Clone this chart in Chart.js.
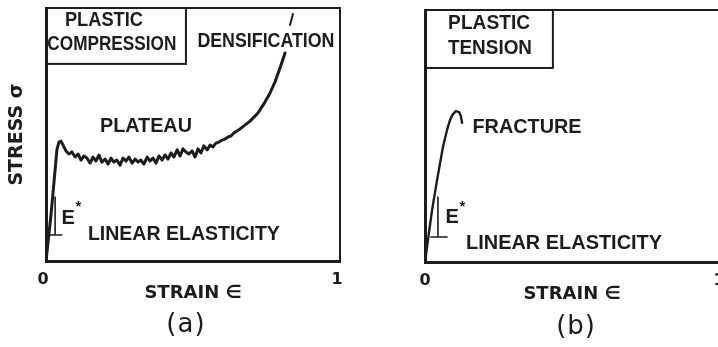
<!DOCTYPE html>
<html><head><meta charset="utf-8">
<script src="https://cdn.jsdelivr.net/npm/chart.js@4.4.1/dist/chart.umd.min.js"></script>
<style>
html,body{margin:0;padding:0;background:#fff;width:718px;height:347px;overflow:hidden;position:relative}
#ca{position:absolute;left:0;top:0}
#cb{position:absolute;left:360px;top:0}
</style></head><body>
<canvas id="ca" width="360" height="347"></canvas>
<canvas id="cb" width="380" height="347"></canvas>
<script>
// ---------- data (strain, normalised stress) ----------
const strainTicks = [0, 1];

const compStrain = [0, 0.017, 0.031, 0.037, 0.044, 0.051,
  0.058, 0.068, 0.078, 0.088, 0.099, 0.109, 0.119, 0.129, 0.139, 0.150,
  0.160, 0.170, 0.180, 0.190, 0.201, 0.211, 0.221, 0.231, 0.241, 0.252,
  0.262, 0.272, 0.282, 0.293, 0.303, 0.313, 0.323, 0.333, 0.344, 0.354,
  0.364, 0.374, 0.384, 0.395, 0.405, 0.415, 0.425, 0.435, 0.446, 0.456,
  0.466, 0.476, 0.486, 0.497, 0.507, 0.517, 0.527, 0.537, 0.548, 0.558,
  0.568, 0.578, 0.588, 0.599, 0.609, 0.619, 0.629, 0.639,
  0.660, 0.694, 0.721, 0.741, 0.762, 0.779, 0.796, 0.813];
const compStress = [0, 0.182, 0.360, 0.439, 0.470, 0.474,
  0.458, 0.435, 0.423, 0.431, 0.411, 0.423, 0.399, 0.415, 0.407, 0.387,
  0.411, 0.395, 0.419, 0.391, 0.403, 0.383, 0.407, 0.391, 0.399, 0.379,
  0.407, 0.395, 0.411, 0.387, 0.403, 0.391, 0.399, 0.383, 0.411, 0.395,
  0.407, 0.387, 0.415, 0.399, 0.419, 0.403, 0.427, 0.411, 0.439, 0.415,
  0.443, 0.431, 0.423, 0.435, 0.411, 0.443, 0.427, 0.455, 0.439, 0.458,
  0.451, 0.466, 0.470, 0.478, 0.482, 0.490, 0.494, 0.506,
  0.522, 0.553, 0.585, 0.621, 0.664, 0.708, 0.763, 0.822];
// continuation stroke above the DENSIFICATION label
const densTickStrain = [0.830, 0.840];
const densTickStress = [0.933, 0.976];
// E* slope bracket (a)
const bracketAStrain = [0.031, 0.031, 0.054, 0.014];
const bracketAStress = [0.253, 0.103, 0.103, 0.103];

const tensStrain = [0, 0.010, 0.024, 0.041, 0.061, 0.075, 0.085, 0.095, 0.105, 0.116, 0.122, 0.126];
const tensStress = [0, 0.087, 0.206, 0.325, 0.456, 0.524, 0.563, 0.587, 0.599, 0.595, 0.579, 0.552];
// E* slope bracket (b)
const bracketBStrain = [0.044, 0.044, 0.075, 0.020];
const bracketBStress = [0.258, 0.099, 0.099, 0.099];

// ---------- helpers / styles ----------
const INK = '#1c1c1c';
const pts = (xs, ys) => xs.map((v, i) => ({x: v, y: ys[i]}));
const lineDS = (xs, ys, w) => ({
  data: pts(xs, ys), showLine: true, borderColor: INK, borderWidth: w,
  pointRadius: 0, tension: 0, fill: false, borderJoinStyle: 'round', borderCapStyle: 'round'
});
const LBL = 'bold 20px "Liberation Sans", Arial, sans-serif';

const deco = {
  id: 'deco',
  afterDatasetsDraw(chart, args, o) {
    const {ctx, chartArea: a, scales: {x, y}} = chart;
    ctx.save();
    ctx.strokeStyle = INK; ctx.fillStyle = INK;
    ctx.lineWidth = 2;
    ctx.beginPath();
    ctx.moveTo(a.left, a.top); ctx.lineTo(a.right, a.top); ctx.lineTo(a.right, a.bottom);
    ctx.stroke();
    for (const b of o.boxes) {
      const x0 = x.getPixelForValue(b.x0), x1 = x.getPixelForValue(b.x1);
      const y0 = y.getPixelForValue(b.y0), y1 = y.getPixelForValue(b.y1);
      ctx.strokeRect(x0, y1, x1 - x0, y0 - y1);
    }
    ctx.textAlign = 'center'; ctx.textBaseline = 'middle';
    for (const t of o.texts) {
      ctx.font = t.font || LBL;
      const px = x.getPixelForValue(t.x), py = y.getPixelForValue(t.y);
      if (t.w) ctx.fillText(t.text, px, py, t.w); else ctx.fillText(t.text, px, py);
    }
    const c = o.caption;
    ctx.font = '500 26px "DejaVu Sans", Verdana, sans-serif';
    ctx.letterSpacing = '1px';
    ctx.fillText(c.text, x.getPixelForValue(c.x), c.py);
    ctx.restore();
  }
};

function makeChart(id, datasets, cfg) {
  return new Chart(document.getElementById(id), {
    type: 'scatter',
    data: {datasets},
    options: {
      responsive: false, animation: false, devicePixelRatio: 1,
      layout: {padding: {left: 0, top: cfg.top, right: cfg.right, bottom: 0}},
      plugins: {legend: {display: false}, tooltip: {enabled: false}, deco: cfg.deco},
      scales: {
        x: {
          type: 'linear', min: strainTicks[0], max: strainTicks[strainTicks.length - 1],
          afterBuildTicks: s => { s.ticks = strainTicks.map(v => ({value: v})); },
          grid: {display: false, drawTicks: false},
          border: {display: true, color: INK, width: 3},
          ticks: {color: INK, padding: 9, labelOffset: cfg.labelOffset,
            font: {family: '"DejaVu Sans", Verdana, sans-serif', size: 16, weight: 'bold'}},
          title: {display: true, text: 'STRAIN ∈', color: INK, padding: {top: 0, bottom: cfg.titlePad},
            font: {family: '"DejaVu Sans", Verdana, sans-serif', size: 18, weight: 'bold'}},
          afterFit: s => { s.height = cfg.xH; }
        },
        y: {
          type: 'linear', min: 0, max: 1,
          grid: {display: false, drawTicks: false},
          border: {display: true, color: INK, width: 3},
          ticks: {display: false},
          title: {display: cfg.yTitle, text: 'STRESS σ', color: INK, padding: {top: 6, bottom: 0},
            font: {family: '"DejaVu Sans", Verdana, sans-serif', size: 19, weight: 'bold'}},
          afterFit: s => { s.width = cfg.yW; }
        }
      }
    },
    plugins: [deco]
  });
}

makeChart('ca', [
  lineDS(compStrain, compStress, 3),
  lineDS(densTickStrain, densTickStress, 2),
  lineDS(bracketAStrain, bracketAStress, 1.6)
], {
  top: 8, right: 20, xH: 86, yW: 46, titlePad: 43, labelOffset: -3, yTitle: true,
  deco: {
    boxes: [{x0: 0, x1: 0.476, y0: 0.779, y1: 1}],
    texts: [
      {text: 'PLASTIC', x: 0.197, y: 0.949, w: 78},
      {text: 'COMPRESSION', x: 0.224, y: 0.854, w: 129},
      {text: 'DENSIFICATION', x: 0.748, y: 0.866, w: 137},
      {text: 'PLATEAU', x: 0.340, y: 0.530, w: 92},
      {text: 'LINEAR ELASTICITY', x: 0.469, y: 0.103, w: 192},
      {text: 'E', x: 0.075, y: 0.170},
      {text: '*', x: 0.110, y: 0.215, font: 'bold 15px "Liberation Sans", Arial, sans-serif'}
    ],
    caption: {text: '(a)', x: 0.476, py: 325}
  }
});

makeChart('cb', [
  lineDS(tensStrain, tensStress, 2.4),
  lineDS(bracketBStrain, bracketBStress, 1.6)
], {
  top: 10, right: 21, xH: 85, yW: 65, titlePad: 42, labelOffset: 0, yTitle: false,
  deco: {
    boxes: [{x0: 0, x1: 0.435, y0: 0.770, y1: 1}],
    texts: [
      {text: 'PLASTIC', x: 0.218, y: 0.948, w: 82},
      {text: 'TENSION', x: 0.221, y: 0.849, w: 84},
      {text: 'FRACTURE', x: 0.347, y: 0.532, w: 109},
      {text: 'LINEAR ELASTICITY', x: 0.473, y: 0.075, w: 196},
      {text: 'E', x: 0.092, y: 0.175},
      {text: '*', x: 0.127, y: 0.220, font: 'bold 15px "Liberation Sans", Arial, sans-serif'}
    ],
    caption: {text: '(b)', x: 0.514, py: 327}
  }
});
</script>
</body></html>
